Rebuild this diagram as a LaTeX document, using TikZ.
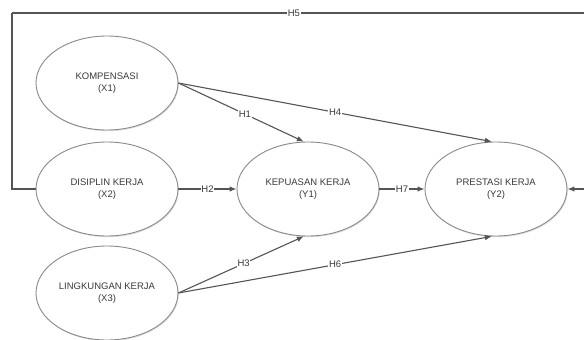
\documentclass[tikz,border=0pt]{standalone}
\usepackage{fontspec}
\setmainfont{Liberation Sans}
\usetikzlibrary{arrows.meta,shapes.geometric,shadows}
\definecolor{linegray}{HTML}{555555}
\definecolor{rimgray}{HTML}{8A8A8A}
\definecolor{textgray}{HTML}{3A3A3A}

\begin{document}
\begin{tikzpicture}[x=1pt,y=-1pt,
		construct/.style={shape=ellipse,draw=rimgray,line width=0.9pt,fill=white,
			minimum width=142pt,minimum height=94pt,inner sep=0pt,align=center,
			text=textgray,font=\fontsize{9.5}{12}\selectfont,
			drop shadow={shadow xshift=0.8pt,shadow yshift=-1.2pt,opacity=0.25}},
		path/.style={draw=linegray,line width=1.1pt,-{Latex[length=7pt,width=5.5pt]}},
		hyp/.style={fill=white,inner sep=0.6pt,text=textgray,font=\fontsize{9.5}{11}\selectfont}]
		\clip (0,0) rectangle (584,340);
		\fill [white] (0,0) rectangle (584,340);
		\node [construct] (X1) at (107,83) {KOMPENSASI\\(X1)};
		\node [construct] (X2) at (107,189) {DISIPLIN KERJA\\(X2)};
		\node [construct] (X3) at (107,293) {LINGKUNGAN KERJA\\(X3)};
		\node [construct] (Y1) at (308,189) {KEPUASAN KERJA\\(Y1)};
		\node [construct] (Y2) at (496,189) {PRESTASI KERJA\\(Y2)};
		% route of H5 round the top
		\coordinate (L1) at (12,189);
		\coordinate (L2) at (12,13);
		\coordinate (R1) at (592,13);
		\coordinate (R2) at (592,189);
		\draw [path,-] (X2.west) -- (L1) -- (L2);
		\draw [draw=linegray,line width=1.1pt] (L2) -- node [hyp,pos=0.486] {H5} (R1);
		\draw [path] (R1) -- (R2) -- (Y2.east);
		\draw [path] (X1.east) -- node [hyp,pos=0.53] {H1} (Y1.95);
		\draw [path] (X1.east) -- node [hyp] {H4} (Y2.95);
		\draw [path] (X2.east) -- node [hyp] {H2} (Y1.west);
		\draw [path] (X3.east) -- node [hyp,pos=0.52] {H3} (Y1.265);
		\draw [path] (X3.east) -- node [hyp] {H6} (Y2.265);
		\draw [path] (Y1.east) -- node [hyp] {H7} (Y2.west);
	\end{tikzpicture}
\end{document}
